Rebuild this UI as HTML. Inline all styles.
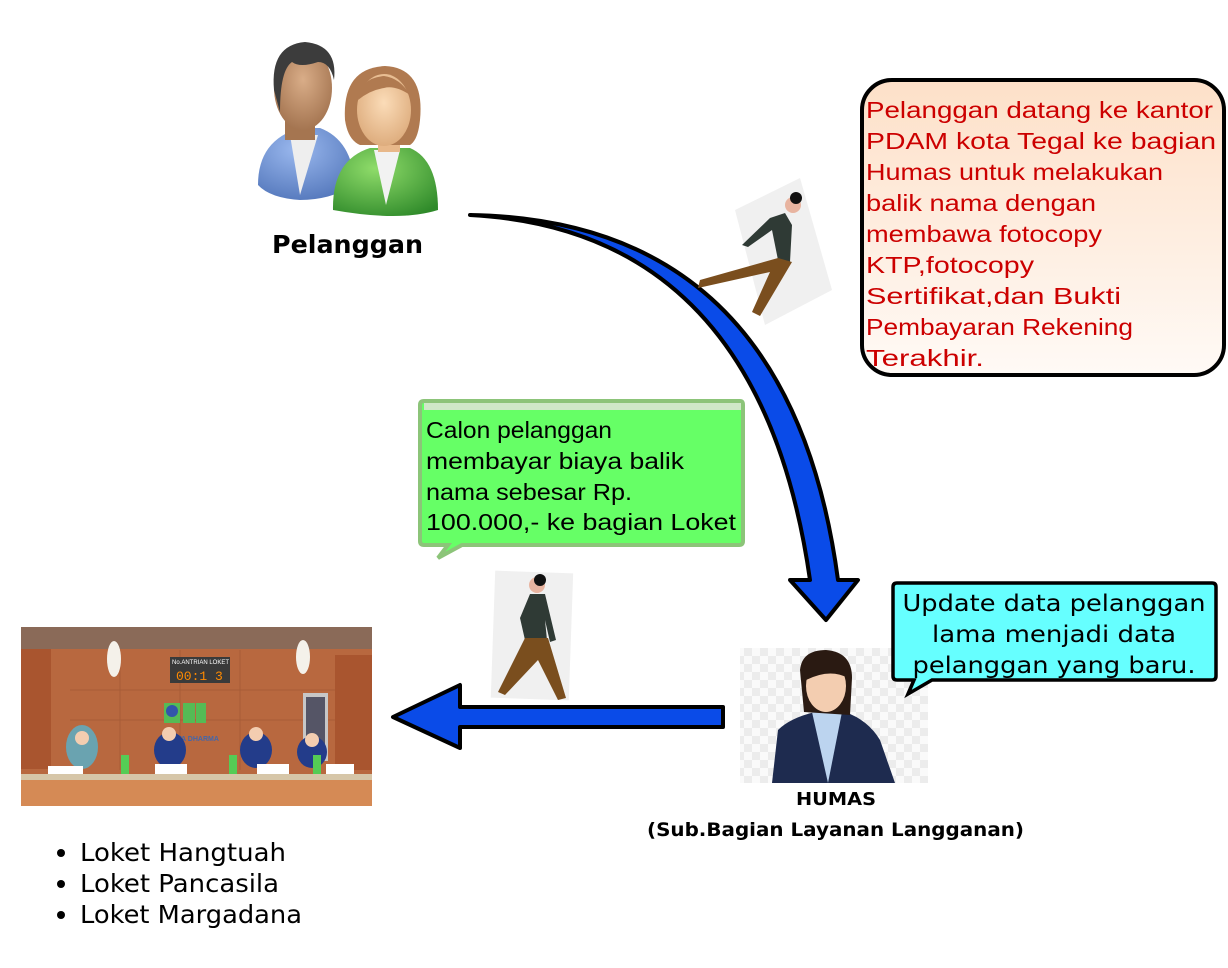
<!DOCTYPE html>
<html><head><meta charset="utf-8"><style>
html,body{margin:0;padding:0;background:#fff;width:1228px;height:968px;overflow:hidden}
svg{position:absolute;left:0;top:0}
</style></head><body>
<svg width="1228" height="968" viewBox="0 0 1228 968" xmlns="http://www.w3.org/2000/svg" font-family="Liberation Sans, DejaVu Sans, sans-serif">
<defs>
<linearGradient id="peach" x1="0" y1="0" x2="0" y2="1"><stop offset="0" stop-color="#fde0c8"/><stop offset="1" stop-color="#fffaf6"/></linearGradient>
<radialGradient id="blue" cx="0.4" cy="0.3" r="0.8"><stop offset="0" stop-color="#9ab8ee"/><stop offset="1" stop-color="#4f73b8"/></radialGradient>
<radialGradient id="green" cx="0.4" cy="0.3" r="0.8"><stop offset="0" stop-color="#8fdc6a"/><stop offset="1" stop-color="#2f8a2a"/></radialGradient>
<radialGradient id="skin" cx="0.5" cy="0.4" r="0.7"><stop offset="0" stop-color="#fbdcb8"/><stop offset="1" stop-color="#d9a574"/></radialGradient>
<radialGradient id="skin2" cx="0.5" cy="0.4" r="0.7"><stop offset="0" stop-color="#d9ad88"/><stop offset="1" stop-color="#9c6c48"/></radialGradient>
<pattern id="chk" width="16" height="16" patternUnits="userSpaceOnUse"><rect width="16" height="16" fill="#fafafa"/><rect width="8" height="8" fill="#ececec"/><rect x="8" y="8" width="8" height="8" fill="#ececec"/></pattern>
</defs>

<!-- Pelanggan icon -->
<g>
<path d="M258 185 Q258 140 300 128 L320 128 Q352 140 355 185 Q330 200 300 200 Q270 198 258 185Z" fill="url(#blue)"/>
<path d="M290 135 L300 195 L318 135Z" fill="#eee"/>
<path d="M285 120 L285 140 L315 140 L315 120Z" fill="#a57550"/>
<ellipse cx="303" cy="88" rx="29" ry="42" fill="url(#skin2)"/>
<path d="M274 90 Q270 45 305 42 Q338 45 334 80 Q330 62 318 62 Q300 68 292 62 Q280 70 280 112 Z" fill="#3c3c3c"/>
<path d="M333 210 Q332 160 370 148 L410 148 Q438 160 438 210 Q400 222 333 210Z" fill="url(#green)"/>
<path d="M374 150 L386 205 L400 150Z" fill="#f2f2f2"/>
<rect x="378" y="130" width="22" height="22" fill="#e8b88a"/>
<path d="M345 120 Q342 68 385 66 Q425 68 420 120 Q418 140 410 145 L360 145 Q348 140 345 120Z" fill="#b07a50"/>
<ellipse cx="384" cy="110" rx="27" ry="36" fill="url(#skin)"/>
<path d="M358 100 Q360 78 384 76 Q400 78 410 95 Q395 85 384 88 Q370 90 358 100Z" fill="#b07a50"/>
</g>
<text x="272" y="253" textLength="151" lengthAdjust="spacingAndGlyphs" font-size="25" font-weight="bold" font-family="DejaVu Sans, sans-serif" fill="#000">Pelanggan</text>

<!-- Curved arrow -->
<path d="M470 215 Q760 230 810 580 L790 580 L826 620 L858 580 L838 580 Q790 220 470 215Z" fill="#0a4be8" stroke="#000" stroke-width="4" stroke-linejoin="round"/>

<!-- walking person 1 -->
<g>
<polygon points="735,210 800,178 832,290 765,325" fill="#f0f0f0"/>
<circle cx="793" cy="205" r="8" fill="#e8b4a0"/>
<circle cx="796" cy="198" r="6" fill="#111"/>
<path d="M785 213 L770 218 L742 245 L748 247 L772 230 L778 260 L790 262 L792 225Z" fill="#2f3a35"/>
<path d="M778 258 L700 280 L698 288 L770 272 L752 312 L760 316 L792 262Z" fill="#7a4e1e"/>
</g>
<!-- walking person 2 -->
<g>
<rect x="493" y="572" width="78" height="127" fill="#f0f0f0" transform="rotate(2 532 635)"/>
<circle cx="537" cy="585" r="8" fill="#e8b4a0"/>
<circle cx="540" cy="580" r="6" fill="#111"/>
<path d="M530 594 L545 594 L556 640 L550 642 L545 620 L547 640 L525 640 L520 618Z" fill="#2f3a35"/>
<path d="M525 638 L548 638 L566 698 L558 700 L538 660 L505 695 L498 692Z" fill="#7a4e1e"/>
</g>

<!-- Left arrow -->
<path d="M723 707 L723 727 L460 727 L460 748 L393 717 L460 685 L460 707Z" fill="#0a4be8" stroke="#000" stroke-width="4" stroke-linejoin="round"/>

<!-- Red bubble -->
<rect x="862" y="80" width="362" height="295" rx="30" fill="url(#peach)" stroke="#000" stroke-width="4"/>
<g font-size="23" fill="#cc0000" font-family="Liberation Sans, sans-serif">
<text x="866" y="118" textLength="347" lengthAdjust="spacingAndGlyphs">Pelanggan datang ke kantor</text>
<text x="866" y="149" textLength="350" lengthAdjust="spacingAndGlyphs">PDAM kota Tegal ke bagian</text>
<text x="866" y="180" textLength="297" lengthAdjust="spacingAndGlyphs">Humas untuk melakukan</text>
<text x="866" y="211" textLength="230" lengthAdjust="spacingAndGlyphs">balik nama dengan</text>
<text x="866" y="242" textLength="236" lengthAdjust="spacingAndGlyphs">membawa fotocopy</text>
<text x="866" y="273" textLength="168" lengthAdjust="spacingAndGlyphs">KTP,fotocopy</text>
<text x="866" y="304" textLength="255" lengthAdjust="spacingAndGlyphs">Sertifikat,dan Bukti</text>
<text x="866" y="335" textLength="267" lengthAdjust="spacingAndGlyphs">Pembayaran Rekening</text>
<text x="866" y="366" textLength="118" lengthAdjust="spacingAndGlyphs">Terakhir.</text>
</g>

<!-- Green bubble -->
<path d="M424 401 L740 401 Q743 401 743 405 L743 541 Q743 545 739 545 L462 545 L438 558 L448 545 L424 545 Q420 545 420 541 L420 405 Q420 401 424 401Z" fill="#66ff66" stroke="#8cc479" stroke-width="4"/>
<rect x="424" y="403" width="317" height="7" fill="#cfe8c8"/>
<g font-size="23" fill="#000">
<text x="426" y="438" textLength="186" lengthAdjust="spacingAndGlyphs">Calon pelanggan</text>
<text x="426" y="469" textLength="258" lengthAdjust="spacingAndGlyphs">membayar biaya balik</text>
<text x="426" y="500" textLength="206" lengthAdjust="spacingAndGlyphs">nama sebesar Rp.</text>
<text x="426" y="530" textLength="310" lengthAdjust="spacingAndGlyphs">100.000,- ke bagian Loket</text>
</g>

<!-- HUMAS image -->
<rect x="740" y="648" width="188" height="135" fill="url(#chk)"/>
<path d="M772 783 L778 730 Q790 718 815 712 L845 712 Q868 720 880 740 L895 783Z" fill="#1e2b4f"/>
<path d="M812 712 L828 783 L842 712Z" fill="#bcd4ef"/>
<path d="M800 670 Q802 650 826 650 Q852 652 852 678 L850 715 L804 712Z" fill="#2a1a12"/>
<ellipse cx="826" cy="686" rx="20" ry="26" fill="#f3cdb0"/>
<path d="M806 680 Q808 658 826 658 Q846 660 848 678 Q830 668 806 680Z" fill="#2a1a12"/>

<!-- Cyan bubble -->
<path d="M897 583 L1212 583 Q1216 583 1216 587 L1216 676 Q1216 680 1212 680 L932 680 L908 694 L914 680 L897 680 Q893 680 893 676 L893 587 Q893 583 897 583Z" fill="#66ffff" stroke="#000" stroke-width="3.5"/>
<g font-size="23" fill="#000" font-family="DejaVu Sans, sans-serif" text-anchor="middle">
<text x="1054" y="611" textLength="303" lengthAdjust="spacingAndGlyphs">Update data pelanggan</text>
<text x="1054" y="642" textLength="244" lengthAdjust="spacingAndGlyphs">lama menjadi data</text>
<text x="1054" y="673" textLength="283" lengthAdjust="spacingAndGlyphs">pelanggan yang baru.</text>
</g>

<text x="796" y="805" textLength="80" lengthAdjust="spacingAndGlyphs" font-size="18" font-weight="bold" font-family="DejaVu Sans, sans-serif">HUMAS</text>
<text x="647" y="836" textLength="377" lengthAdjust="spacingAndGlyphs" font-size="19" font-weight="bold" font-family="DejaVu Sans, sans-serif">(Sub.Bagian Layanan Langganan)</text>

<!-- Loket photo -->
<g>
<rect x="21" y="627" width="351" height="179" fill="#b8683f"/>
<rect x="21" y="627" width="351" height="22" fill="#8a6a58"/>
<rect x="21" y="649" width="30" height="120" fill="#a9552f"/>
<rect x="335" y="655" width="37" height="115" fill="#a9552f"/>
<g stroke="#9c5532" stroke-width="1" opacity="0.6">
<line x1="70" y1="690" x2="335" y2="690"/><line x1="70" y1="720" x2="335" y2="720"/><line x1="120" y1="650" x2="120" y2="770"/><line x1="180" y1="650" x2="180" y2="770"/><line x1="240" y1="650" x2="240" y2="770"/>
</g>
<rect x="303" y="693" width="25" height="68" fill="#c7c7c7"/><rect x="306" y="697" width="19" height="60" fill="#556"/>
<ellipse cx="114" cy="659" rx="7" ry="18" fill="#f4f1ea"/>
<ellipse cx="303" cy="657" rx="7" ry="17" fill="#f4f1ea"/>
<rect x="170" y="657" width="60" height="26" fill="#3a3a3a"/>
<text x="172" y="664" font-size="6" fill="#fff">No.ANTRIAN LOKET</text>
<text x="176" y="680" font-size="13" fill="#ff8a00" font-family="Liberation Mono, monospace">00:1  3</text>
<rect x="164" y="703" width="16" height="20" fill="#55bb55"/><rect x="183" y="703" width="12" height="20" fill="#55bb55"/><rect x="196" y="703" width="10" height="20" fill="#55bb55"/>
<circle cx="172" cy="711" r="6" fill="#3355aa"/>
<text x="166" y="741" font-size="7" font-weight="bold" fill="#4466aa">TIRTA DHARMA</text>
<ellipse cx="82" cy="747" rx="16" ry="22" fill="#6aa3b0"/><circle cx="82" cy="738" r="7" fill="#f3cdb0"/>
<ellipse cx="170" cy="750" rx="16" ry="18" fill="#233c8a"/><circle cx="169" cy="734" r="7" fill="#f3cdb0"/>
<ellipse cx="256" cy="750" rx="16" ry="18" fill="#233c8a"/><circle cx="256" cy="734" r="7" fill="#f3cdb0"/>
<ellipse cx="312" cy="752" rx="15" ry="16" fill="#233c8a"/><circle cx="312" cy="740" r="7" fill="#f3cdb0"/>
<rect x="48" y="766" width="35" height="10" fill="#fff"/><rect x="155" y="764" width="32" height="10" fill="#fff"/><rect x="257" y="764" width="32" height="10" fill="#fff"/><rect x="326" y="764" width="28" height="10" fill="#fff"/>
<rect x="121" y="755" width="8" height="20" fill="#5c5"/><rect x="229" y="755" width="8" height="20" fill="#5c5"/><rect x="313" y="755" width="8" height="20" fill="#5c5"/>
<rect x="21" y="774" width="351" height="6" fill="#d6c6a8"/>
<rect x="21" y="780" width="351" height="26" fill="#d58a55"/>
</g>

<!-- List -->
<g font-size="25" font-family="DejaVu Sans, sans-serif" fill="#000">
<circle cx="61" cy="853" r="4"/><text x="80" y="861" textLength="206" lengthAdjust="spacingAndGlyphs">Loket Hangtuah</text>
<circle cx="61" cy="884" r="4"/><text x="80" y="892" textLength="199" lengthAdjust="spacingAndGlyphs">Loket Pancasila</text>
<circle cx="61" cy="915" r="4"/><text x="80" y="923" textLength="222" lengthAdjust="spacingAndGlyphs">Loket Margadana</text>
</g>
</svg>
</body></html>
